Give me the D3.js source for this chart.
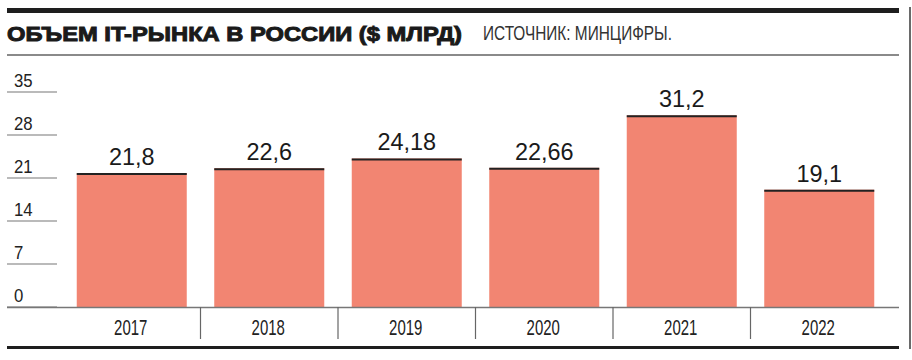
<!DOCTYPE html>
<html><head><meta charset="utf-8">
<script src="https://cdn.jsdelivr.net/npm/d3@7"></script>
<style>
html,body{margin:0;padding:0;background:#fff;}
svg{display:block;}
</style></head>
<body>
<svg id="chart" width="912" height="360"></svg>
<script>
const years = ["2017","2018","2019","2020","2021","2022"];
const values = [21.8, 22.6, 24.18, 22.66, 31.2, 19.1];
const valueLabels = ["21,8","22,6","24,18","22,66","31,2","19,1"];
const yTicks = [0, 7, 14, 21, 28, 35];
const titleText = "ОБЪЕМ IT-РЫНКА В РОССИИ ($ МЛРД)";
const sourceText = "ИСТОЧНИК: МИНЦИФРЫ.";

const svg = d3.select("#chart");
const font = "'Liberation Sans', Arial, Helvetica, sans-serif";

function squeeze(sel, factor) {
  sel.each(function() {
    const w = this.getComputedTextLength();
    d3.select(this).attr("textLength", w * factor).attr("lengthAdjust", "spacingAndGlyphs");
  });
}

const x = d3.scaleBand().domain(years).range([63, 888]).paddingInner(0.2).paddingOuter(0.1);
const y = d3.scaleLinear().domain([0, 35]).range([307, 92]);

// header rules
svg.append("rect").attr("x", 7).attr("y", 8).attr("width", 892).attr("height", 5).attr("fill", "#1e1e1e");
svg.append("rect").attr("x", 7).attr("y", 54).attr("width", 892).attr("height", 2).attr("fill", "#8a8a8a");
svg.append("rect").attr("x", 909).attr("y", 7).attr("width", 2).attr("height", 342).attr("fill", "#6a6a6a");

// title
svg.append("text").attr("x", 7).attr("y", 41)
  .attr("font-family", font).attr("font-weight", "bold").attr("font-size", 21)
  .attr("fill", "#1a1a1a").attr("stroke", "#1a1a1a").attr("stroke-width", 1.0)
  .attr("textLength", 455).attr("lengthAdjust", "spacingAndGlyphs")
  .text(titleText);
svg.append("text").attr("x", 483).attr("y", 40)
  .attr("font-family", font).attr("font-size", 19.5)
  .attr("fill", "#333")
  .attr("textLength", 189).attr("lengthAdjust", "spacingAndGlyphs")
  .text(sourceText);

// y axis tick lines + labels
const yAxis = svg.append("g");
yAxis.selectAll("line").data(yTicks).join("line")
  .attr("x1", 7).attr("x2", 57)
  .attr("y1", d => y(d)).attr("y2", d => y(d))
  .attr("stroke", "#777").attr("stroke-width", 1.2);
yAxis.selectAll("text").data(yTicks).join("text")
  .attr("x", 14).attr("y", d => y(d) - 5)
  .attr("font-family", font).attr("font-size", 19).attr("fill", "#222")
  .text(d => d)
  .call(squeeze, 0.88);

// bars
const bars = svg.append("g");
bars.selectAll("rect").data(values).join("rect")
  .attr("x", (d, i) => x(years[i]))
  .attr("y", d => y(d))
  .attr("width", x.bandwidth())
  .attr("height", d => y(0) - y(d))
  .attr("fill", "#f28572");
bars.selectAll("line").data(values).join("line")
  .attr("x1", (d, i) => x(years[i]))
  .attr("x2", (d, i) => x(years[i]) + x.bandwidth())
  .attr("y1", d => y(d) + 1).attr("y2", d => y(d) + 1)
  .attr("stroke", "#222").attr("stroke-width", 2);

// value labels
svg.append("g").selectAll("text").data(values).join("text")
  .attr("x", (d, i) => x(years[i]) + x.bandwidth() / 2)
  .attr("y", d => y(d) - 8)
  .attr("text-anchor", "middle")
  .attr("font-family", font).attr("font-size", 23).attr("fill", "#1a1a1a")
  .text((d, i) => valueLabels[i])
  .call(squeeze, 1.02);

// baseline
svg.append("line").attr("x1", 7).attr("x2", 899).attr("y1", y(0) + 0.5).attr("y2", y(0) + 0.5)
  .attr("stroke", "#777").attr("stroke-width", 1.5);

// category separators
const step = x.step();
const seps = d3.range(1, years.length).map(i => x(years[i]) - x.paddingInner() * step / 2);
svg.append("g").selectAll("line").data(seps).join("line")
  .attr("x1", d => d).attr("x2", d => d)
  .attr("y1", y(0)).attr("y2", 339)
  .attr("stroke", "#666").attr("stroke-width", 1.2);

// year labels
svg.append("g").selectAll("text").data(years).join("text")
  .attr("x", d => x(d) + x.bandwidth() / 2 - 1)
  .attr("y", 334.5)
  .attr("text-anchor", "middle")
  .attr("font-family", font).attr("font-size", 22).attr("fill", "#222")
  .text(d => d)
  .call(squeeze, 0.68);

// bottom rule
svg.append("rect").attr("x", 7).attr("y", 346).attr("width", 892).attr("height", 3).attr("fill", "#1e1e1e");
</script>
</body></html>
